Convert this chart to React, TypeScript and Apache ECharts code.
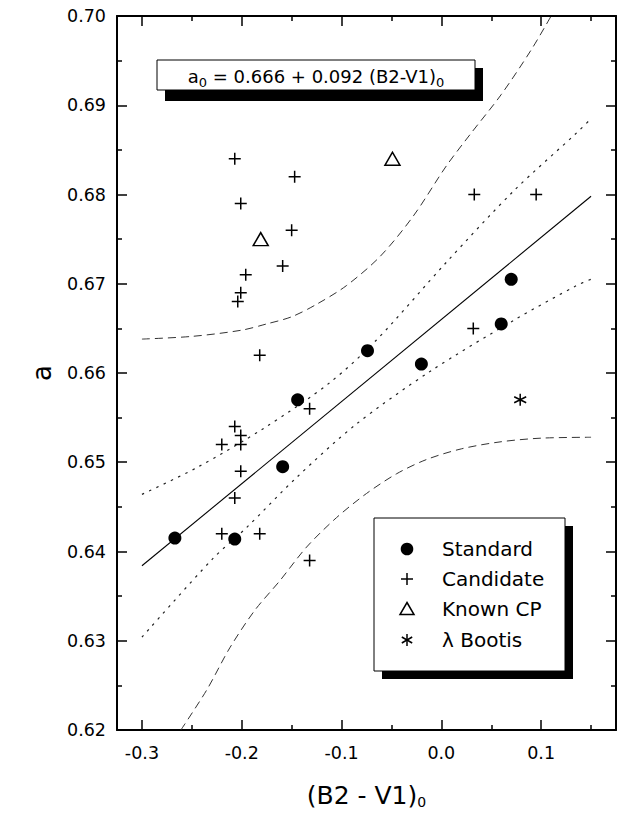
import React, { useEffect, useRef } from "react";
import * as echarts from "echarts";

// ---- data ----
const standard: number[][] = [
  [-0.267, 0.6415], [-0.207, 0.6414], [-0.159, 0.6495], [-0.144, 0.657],
  [-0.074, 0.6625], [-0.02, 0.661], [0.06, 0.6655], [0.07, 0.6705],
];
const candidate: number[][] = [
  [-0.207, 0.684], [-0.147, 0.682], [-0.201, 0.679], [-0.15, 0.676],
  [-0.159, 0.672], [-0.196, 0.671], [-0.201, 0.669], [-0.204, 0.668],
  [-0.182, 0.662], [-0.132, 0.656], [-0.207, 0.654], [-0.201, 0.653],
  [-0.22, 0.652], [-0.201, 0.652], [-0.201, 0.649], [-0.207, 0.646],
  [-0.22, 0.642], [-0.182, 0.642], [-0.132, 0.639], [0.033, 0.68],
  [0.095, 0.68], [0.032, 0.665],
];
const knownCP: number[][] = [[-0.181, 0.675], [-0.049, 0.684]];
const lambdaBootis: number[][] = [[0.079, 0.657]];
const fitLine: number[][] = [[-0.3, 0.6384], [0.15, 0.6798]];
const upperConf: number[][] = [
  [-0.3, 0.6464], [-0.245, 0.6494], [-0.178, 0.6538], [-0.112, 0.6589],
  [-0.065, 0.6637], [0.005, 0.6724], [0.0725, 0.6804], [0.1355, 0.6869], [0.15, 0.6885],
];
const lowerConf: number[][] = [
  [-0.3, 0.6304], [-0.229, 0.6392], [-0.195, 0.6427], [-0.145, 0.6483],
  [-0.086, 0.6542], [-0.011, 0.6602], [0.0725, 0.6659], [0.1355, 0.6698], [0.15, 0.6705],
];
const upperPred: number[][] = [
  [-0.3, 0.6638], [-0.25, 0.6641], [-0.2, 0.6648], [-0.175, 0.6655], [-0.15, 0.6663],
  [-0.125, 0.6677], [-0.095, 0.6698], [-0.061, 0.6731], [-0.028, 0.6776],
  [0.005, 0.6832], [0.03, 0.6869], [0.06, 0.6912], [0.09, 0.6962], [0.11, 0.7],
];
const lowerPred: number[][] = [
  [-0.261, 0.62], [-0.235, 0.6245], [-0.212, 0.6292], [-0.187, 0.6334], [-0.162, 0.6367],
  [-0.135, 0.6405], [-0.105, 0.6438], [-0.075, 0.6465], [-0.045, 0.6487], [-0.015, 0.6503],
  [0.02, 0.6515], [0.06, 0.6523], [0.1, 0.6527], [0.15, 0.6528],
];
const xMajorTicks = [-0.3, -0.2, -0.1, 0.0, 0.1];
const xMinorTicks = [-0.25, -0.15, -0.05, 0.05, 0.15];
const legendNames = ["Standard", "Candidate", "Known CP", "λ Bootis"];

const FONT = '"DejaVu Sans", "Liberation Sans", sans-serif';
const CROSS = "path://M0,-6L0,6M-6,0L6,0";
const STAR = "path://M0,-6L0,6M-5.2,-3L5.2,3M-5.2,3L5.2,-3";

const X_MIN = -0.325;
const X_MAX = 0.175;

function xAxisDef(position: string, ticks: number[], len: number, main: boolean, label: boolean): any {
  return {
    type: "value",
    position,
    min: X_MIN,
    max: X_MAX,
    axisLine: { show: main, onZero: false, lineStyle: { color: "#000", width: 2 } },
    axisTick: { show: true, inside: true, length: len, customValues: ticks, lineStyle: { color: "#000", width: 1.5 } },
    axisLabel: label
      ? { show: true, customValues: ticks, formatter: (v: number) => v.toFixed(1), margin: 14, color: "#000", fontSize: 17.5, fontFamily: FONT }
      : { show: false },
    splitLine: { show: false },
  };
}

function yAxisDef(position: string, label: boolean): any {
  return {
    type: "value",
    position,
    min: 0.62,
    max: 0.7,
    interval: 0.01,
    axisLine: { show: true, onZero: false, lineStyle: { color: "#000", width: 2 } },
    axisTick: { show: true, inside: true, length: 10, lineStyle: { color: "#000", width: 1.5 } },
    minorTick: { show: true, splitNumber: 2, length: 5, lineStyle: { color: "#000", width: 1.5 } },
    axisLabel: label
      ? { show: true, formatter: (v: number) => v.toFixed(2), margin: 11, color: "#000", fontSize: 17.5, fontFamily: FONT }
      : { show: false },
    splitLine: { show: false },
  };
}

function legendItem(i: number, y: number): any[] {
  const cx = 407;
  const els: any[] = [];
  const ls = { stroke: "#000", lineWidth: 1.5 };
  if (i === 0) els.push({ type: "circle", shape: { cx, cy: y, r: 6.3 }, style: { fill: "#000" }, z: 12 });
  if (i === 1) {
    els.push({ type: "line", shape: { x1: cx - 6, y1: y, x2: cx + 6, y2: y }, style: ls, z: 12 });
    els.push({ type: "line", shape: { x1: cx, y1: y - 6, x2: cx, y2: y + 6 }, style: ls, z: 12 });
  }
  if (i === 2) els.push({ type: "polygon", shape: { points: [[cx, y - 6.5], [cx + 7, y + 5.5], [cx - 7, y + 5.5]] }, style: { fill: "#fff", stroke: "#000", lineWidth: 1.5 }, z: 12 });
  if (i === 3) {
    els.push({ type: "line", shape: { x1: cx, y1: y - 6, x2: cx, y2: y + 6 }, style: ls, z: 12 });
    els.push({ type: "line", shape: { x1: cx - 5.2, y1: y - 3, x2: cx + 5.2, y2: y + 3 }, style: ls, z: 12 });
    els.push({ type: "line", shape: { x1: cx - 5.2, y1: y + 3, x2: cx + 5.2, y2: y - 3 }, style: ls, z: 12 });
  }
  els.push({
    type: "text", x: 442, y, z: 12,
    style: { text: legendNames[i], fill: "#000", font: `20px ${FONT}`, align: "left", verticalAlign: "middle" },
  });
  return els;
}

export default function App() {
  const ref = useRef<HTMLDivElement>(null);
  useEffect(() => {
    document.body.style.margin = "0";
    const chart = echarts.init(ref.current!, null, { renderer: "svg" });
    const bandLine = (data: number[][], type: any, width: number, color: string) => ({
      type: "line", data, smooth: 0.3, symbol: "none", silent: true,
      lineStyle: { color, width, type }, z: 2,
    });
    const rows = [549, 579, 609, 640];
    const option: any = {
      animation: false,
      backgroundColor: "#fff",
      grid: { left: 117, right: 1, top: 16, bottom: 80 },
      xAxis: [
        {
          ...xAxisDef("bottom", xMajorTicks, 10, true, true),
          name: "{m|(B2 - V1)}{s|0}",
          nameLocation: "middle",
          nameGap: 51,
          nameTextStyle: {
            color: "#000",
            rich: {
              m: { fontSize: 25, fontFamily: FONT, color: "#000" },
              s: { fontSize: 14, fontFamily: FONT, color: "#000", padding: [14, 0, 0, 0] },
            },
          },
        },
        xAxisDef("bottom", xMinorTicks, 5, false, false),
        xAxisDef("top", xMajorTicks, 10, true, false),
        xAxisDef("top", xMinorTicks, 5, false, false),
      ],
      yAxis: [
        {
          ...yAxisDef("left", true),
          name: "a",
          nameLocation: "middle",
          nameGap: 62,
          nameTextStyle: { color: "#000", fontSize: 26, fontFamily: FONT },
        },
        yAxisDef("right", false),
      ],
      series: [
        bandLine(upperPred, [8, 5], 1, "#333"),
        bandLine(lowerPred, [8, 5], 1, "#333"),
        bandLine(upperConf, [2.5, 5.5], 1.2, "#222"),
        bandLine(lowerConf, [2.5, 5.5], 1.2, "#222"),
        { type: "line", data: fitLine, symbol: "none", silent: true, lineStyle: { color: "#000", width: 1.1 }, z: 3 },
        { name: "Standard", type: "scatter", data: standard, symbol: "circle", symbolSize: 13, itemStyle: { color: "#000", opacity: 1 }, z: 5 },
        { name: "Candidate", type: "scatter", data: candidate, symbol: CROSS, symbolSize: 12, itemStyle: { color: "none", borderColor: "#000", borderWidth: 1.5, opacity: 1 }, z: 5 },
        { name: "Known CP", type: "scatter", data: knownCP, symbol: "triangle", symbolSize: [15, 13], itemStyle: { color: "#fff", borderColor: "#000", borderWidth: 1.5, opacity: 1 }, z: 5 },
        { name: "λ Bootis", type: "scatter", data: lambdaBootis, symbol: STAR, symbolSize: 12, itemStyle: { color: "none", borderColor: "#000", borderWidth: 1.5, opacity: 1 }, z: 5 },
      ],
      graphic: [
        { type: "rect", shape: { x: 165, y: 68, width: 318, height: 33 }, style: { fill: "#000" }, z: 10 },
        { type: "rect", shape: { x: 157, y: 60, width: 318, height: 30 }, style: { fill: "#fff", stroke: "#000", lineWidth: 1 }, z: 11 },
        {
          type: "text", x: 316, y: 76, z: 12,
          style: {
            text: "{m|a}{s|0}{m| = 0.666 + 0.092 (B2-V1)}{s|0}",
            align: "center", verticalAlign: "middle", fill: "#000",
            rich: {
              m: { fontSize: 18, fontFamily: FONT, fill: "#000" },
              s: { fontSize: 13, fontFamily: FONT, fill: "#000", padding: [13, 0, 0, 0] },
            },
          },
        },
        { type: "rect", shape: { x: 382, y: 526, width: 191, height: 153 }, style: { fill: "#000" }, z: 10 },
        { type: "rect", shape: { x: 374, y: 518, width: 191, height: 153 }, style: { fill: "#fff", stroke: "#000", lineWidth: 1 }, z: 11 },
        ...rows.flatMap((y, i) => legendItem(i, y)),
      ],
    };
    chart.setOption(option);
    return () => chart.dispose();
  }, []);
  return <div ref={ref} style={{ width: 617, height: 814 }} />;
}
